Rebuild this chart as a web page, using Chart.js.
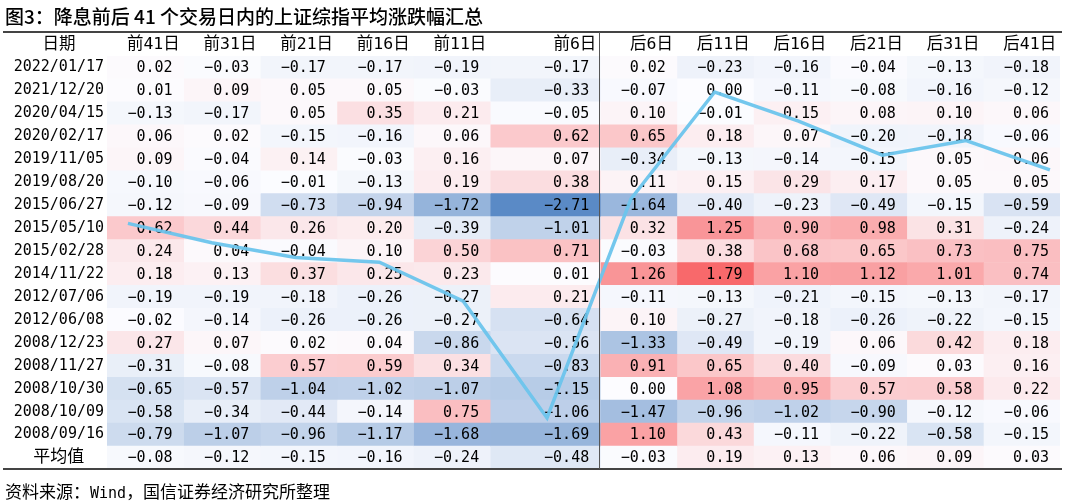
<!DOCTYPE html>
<html>
<head>
<meta charset="utf-8">
<script src="https://cdn.jsdelivr.net/npm/chart.js@4.4.0/dist/chart.umd.min.js"></script>
<style>
  html, body { margin: 0; padding: 0; background: #fff; }
  #wrap { position: relative; width: 1080px; height: 503px; overflow: hidden; }
  #chart { position: absolute; left: 0; top: 0; }
  .cap { position: absolute; left: 5px; color: #000; white-space: nowrap;
         font-family: 'Noto Sans CJK SC', sans-serif; }
  #title { top: 2px; font-size: 19px; font-weight: 500; }
  #source { top: 478px; font-size: 17px; }
  #source span { font-family: 'DejaVu Sans Mono', monospace; font-size: 15px; }
</style>
</head>
<body>
<div id="wrap">
  <canvas id="chart" width="1080" height="503"></canvas>
  <div id="title" class="cap">图3：降息前后 41 个交易日内的上证综指平均涨跌幅汇总</div>
  <div id="source" class="cap">资料来源：<span>Wind</span>，国信证券经济研究所整理</div>
</div>
<script>
// table contents
const columns = ['前41日', '前31日', '前21日', '前16日', '前11日', '前6日',
                 '后6日', '后11日', '后16日', '后21日', '后31日', '后41日'];
const dates = ['2022/01/17', '2021/12/20', '2020/04/15', '2020/02/17', '2019/11/05',
               '2019/08/20', '2015/06/27', '2015/05/10', '2015/02/28', '2014/11/22',
               '2012/07/06', '2012/06/08', '2008/12/23', '2008/11/27', '2008/10/30',
               '2008/10/09', '2008/09/16'];
const avgLabel = '平均值';

const pre41  = [0.02, 0.01, -0.13, 0.06, 0.09, -0.10, -0.12, 0.62, 0.24, 0.18, -0.19, -0.02, 0.27, -0.31, -0.65, -0.58, -0.79];
const pre31  = [-0.03, 0.09, -0.17, 0.02, -0.04, -0.06, -0.09, 0.44, 0.04, 0.13, -0.19, -0.14, 0.07, -0.08, -0.57, -0.34, -1.07];
const pre21  = [-0.17, 0.05, 0.05, -0.15, 0.14, -0.01, -0.73, 0.26, -0.04, 0.37, -0.18, -0.26, 0.02, 0.57, -1.04, -0.44, -0.96];
const pre16  = [-0.17, 0.05, 0.35, -0.16, -0.03, -0.13, -0.94, 0.20, 0.10, 0.25, -0.26, -0.26, 0.04, 0.59, -1.02, -0.14, -1.17];
const pre11  = [-0.19, -0.03, 0.21, 0.06, 0.16, 0.19, -1.72, -0.39, 0.50, 0.23, -0.27, -0.27, -0.86, 0.34, -1.07, 0.75, -1.68];
const pre6   = [-0.17, -0.33, -0.05, 0.62, 0.07, 0.38, -2.71, -1.01, 0.71, 0.01, 0.21, -0.64, -0.56, -0.83, -1.15, -1.06, -1.69];
const post6  = [0.02, -0.07, 0.10, 0.65, -0.34, 0.11, -1.64, 0.32, -0.03, 1.26, -0.11, 0.10, -1.33, 0.91, 0.00, -1.47, 1.10];
const post11 = [-0.23, 0.00, -0.01, 0.18, -0.13, 0.15, -0.40, 1.25, 0.38, 1.79, -0.13, -0.27, -0.49, 0.65, 1.08, -0.96, 0.43];
const post16 = [-0.16, -0.11, 0.15, 0.07, -0.14, 0.29, -0.23, 0.90, 0.68, 1.10, -0.21, -0.18, -0.19, 0.40, 0.95, -1.02, -0.11];
const post21 = [-0.04, -0.08, 0.08, -0.20, -0.15, 0.17, -0.49, 0.98, 0.65, 1.12, -0.15, -0.26, 0.06, -0.09, 0.57, -0.90, -0.22];
const post31 = [-0.13, -0.16, 0.10, -0.18, 0.05, 0.05, -0.15, 0.31, 0.73, 1.01, -0.13, -0.22, 0.42, 0.03, 0.58, -0.12, -0.58];
const post41 = [-0.18, -0.12, 0.06, -0.06, 0.06, 0.05, -0.59, -0.24, 0.75, 0.74, -0.17, -0.15, 0.18, 0.16, 0.22, -0.06, -0.15];
const averages = [-0.08, -0.12, -0.15, -0.16, -0.24, -0.48, -0.03, 0.19, 0.13, 0.06, 0.09, 0.03];

const columnValues = [pre41, pre31, pre21, pre16, pre11, pre6, post6, post11, post16, post21, post31, post41];

// layout: column widths in "cell units" (前6日 is wider), fonts, colours
const colWidths = [1, 1, 1, 1, 1, 1.436, 1, 1, 1, 1, 1, 1];
const colStarts = colWidths.map((w, i) => colWidths.slice(0, i).reduce((a, b) => a + b, 0));
const totalWidth = colWidths.reduce((a, b) => a + b, 0);
const FONT = "'DejaVu Sans Mono', 'Noto Sans CJK SC', monospace";
const NUM_SIZE = 15;
const HEAD_SIZE = 16.5;
const LINE_COLOR = 'rgba(108, 196, 236, 0.95)';

// Excel-style 3 colour scale: blue - white - red, white at 0
const allValues = columnValues.flat().concat(averages);
const vMin = Math.min(...allValues);
const vMax = Math.max(...allValues);
const WHITE = [252, 252, 255], RED = [248, 105, 107], BLUE = [90, 138, 198];
function cellColor(v) {
  const target = v >= 0 ? RED : BLUE;
  const t = v >= 0 ? v / vMax : v / vMin;
  const c = WHITE.map((w, k) => Math.round(w + (target[k] - w) * t));
  return `rgb(${c[0]},${c[1]},${c[2]})`;
}

function fmt(v) {
  const s = Math.abs(v).toFixed(2);
  return v < 0 ? '\u2212' + s : s;
}

const rowLabels = dates.concat([avgLabel]);

const barSets = columns.map((name, j) => {
  const vals = columnValues[j].concat([averages[j]]);
  return {
    type: 'bar',
    label: name,
    indexAxis: 'y',
    xAxisID: 'xCell',
    yAxisID: 'yRow',
    data: vals.map(() => [colStarts[j], colStarts[j] + colWidths[j]]),
    values: vals,
    backgroundColor: vals.map(cellColor),
    borderWidth: 0,
    barPercentage: 1,
    categoryPercentage: 1,
    grouped: false,
    order: 1
  };
});

const lineSet = {
  type: 'line',
  label: avgLabel,
  xAxisID: 'xLine',
  yAxisID: 'yVal',
  data: averages.map((v, i) => ({ x: i, y: v })),
  borderColor: LINE_COLOR,
  borderWidth: 3.5,
  pointRadius: 0,
  tension: 0,
  fill: false,
  order: 0
};

// header ticks: right aligned in each cell, 日期 over the date column
const headerTicks = [{ value: -0.41, label: '日期' }].concat(
  columns.map((c, j) => ({ value: colStarts[j] + colWidths[j] - 0.05, label: c })));

const tablePlugin = {
  id: 'tablePlugin',
  beforeDatasetDraw(chart, args) {
    if (args.meta.type !== 'line') return;
    const { ctx } = chart;
    const xs = chart.scales.xCell, ys = chart.scales.yRow;
    ctx.save();
    ctx.font = `${NUM_SIZE}px ${FONT}`;
    ctx.fillStyle = '#000';
    ctx.textAlign = 'right';
    ctx.textBaseline = 'middle';
    barSets.forEach((ds, j) => {
      const xr = xs.getPixelForValue(colStarts[j] + colWidths[j]) - 11;
      ds.values.forEach((v, i) => {
        ctx.fillText(fmt(v), xr, ys.getPixelForValue(i) + 1);
      });
    });
    ctx.restore();
  },
  afterDraw(chart) {
    const { ctx, chartArea } = chart;
    const xs = chart.scales.xCell;
    ctx.save();
    ctx.strokeStyle = '#444';
    ctx.lineWidth = 2;
    ctx.beginPath();
    ctx.moveTo(3, 32); ctx.lineTo(chartArea.right + 2, 32);
    ctx.moveTo(3, chartArea.bottom); ctx.lineTo(chartArea.right + 2, chartArea.bottom);
    ctx.stroke();
    const xSep = Math.round(xs.getPixelForValue(colStarts[6])) - 0.5;
    ctx.lineWidth = 1;
    ctx.strokeStyle = '#555';
    ctx.beginPath();
    ctx.moveTo(xSep, 32); ctx.lineTo(xSep, chartArea.bottom);
    ctx.stroke();
    ctx.restore();
  }
};

new Chart(document.getElementById('chart'), {
  data: { labels: rowLabels, datasets: barSets.concat([lineSet]) },
  options: {
    responsive: false,
    animation: false,
    events: [],
    layout: { padding: { top: 32, bottom: 34, left: 0, right: 20 } },
    plugins: { legend: { display: false }, tooltip: { enabled: false }, title: { display: false } },
    scales: {
      xCell: {
        type: 'linear', axis: 'x', position: 'top', min: 0, max: totalWidth,
        grid: { display: false, drawTicks: false }, border: { display: false },
        afterBuildTicks: s => { s.ticks = headerTicks.map(t => ({ value: t.value })); },
        afterFit: s => { s.height = 24; },
        ticks: {
          autoSkip: false, maxRotation: 0, align: 'end', padding: 1, color: '#000',
          font: { family: FONT, size: HEAD_SIZE },
          callback: (v, i) => headerTicks[i] ? headerTicks[i].label : ''
        }
      },
      yRow: {
        type: 'category', axis: 'y', position: 'left', offset: true,
        grid: { display: false, drawTicks: false }, border: { display: false },
        afterFit: s => { s.width = 107; },
        ticks: {
          autoSkip: false, crossAlign: 'center', padding: 3, color: '#000',
          font: c => ({ family: FONT, size: c.index === dates.length ? 17 : NUM_SIZE })
        }
      },
      xLine: { type: 'linear', axis: 'x', display: false, min: -0.25, max: 11.12 },
      yVal: { type: 'linear', axis: 'y', display: false, min: -0.585, max: 0.264 }
    }
  },
  plugins: [tablePlugin]
});
</script>
</body>
</html>
